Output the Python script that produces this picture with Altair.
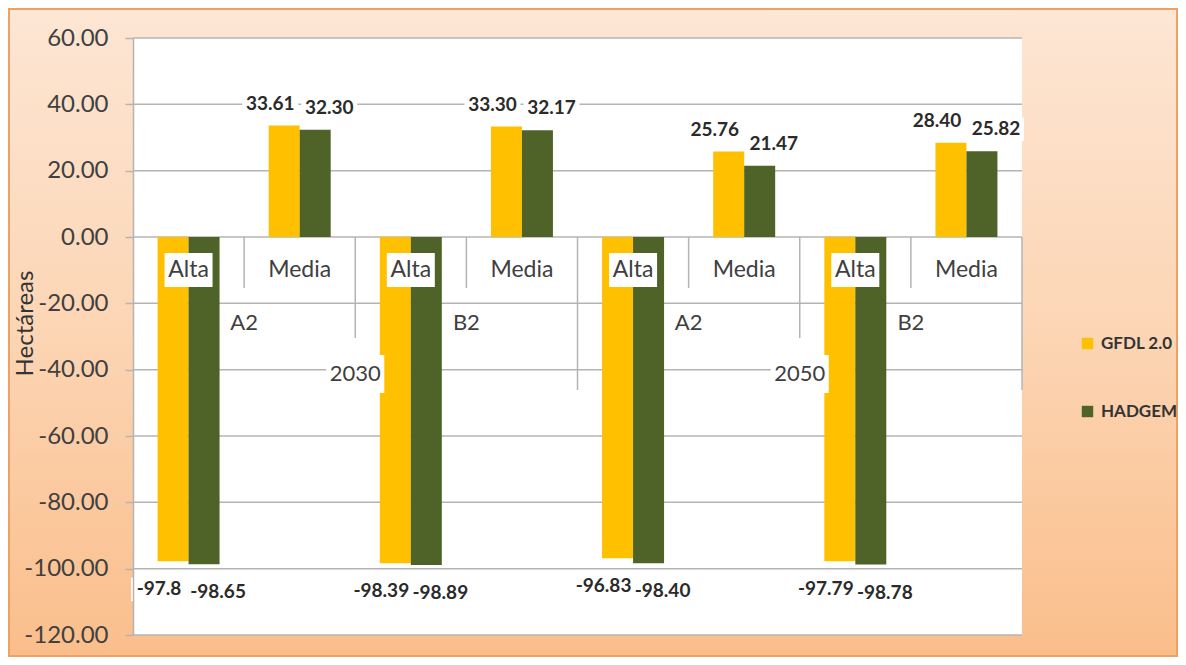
import altair as alt
import pandas as pd

# ---------------- data ----------------
years = ["2030", "2050"]
scenarios = ["A2", "B2", "A2", "B2"]
levels = ["Alta", "Media", "Alta", "Media", "Alta", "Media", "Alta", "Media"]
series_names = ["GFDL 2.0", "HADGEM"]
series_colors = ["#FFC000", "#4F6228"]
gfdl_values = [-97.8, 33.61, -98.39, 33.30, -96.83, 25.76, -97.79, 28.40]
hadgem_values = [-98.65, 32.30, -98.89, 32.17, -98.40, 21.47, -98.78, 25.82]
gfdl_labels = ["-97.8", "33.61", "-98.39", "33.30", "-96.83", "25.76", "-97.79", "28.40"]
hadgem_labels = ["-98.65", "32.30", "-98.89", "32.17", "-98.40", "21.47", "-98.78", "25.82"]
y_ticks = [-120, -100, -80, -60, -40, -20, 0, 20, 40, 60]

# ---------------- layout / style ----------------
W, H = 889, 597
PL, PT, PR, PB = 125, 30, 156, 22
YMIN, YMAX = -120, 60
NCAT = len(levels)
PX_UNIT = H / (YMAX - YMIN)
CAT_PX = W / NCAT
BAR_W = 31 / CAT_PX
LBL_DX = 14 / CAT_PX
FONT = "Lato"
TXT = "#404040"
GRID = "#B4B4B4"

xscale = alt.Scale(domain=[0, NCAT], nice=False, zero=False)
yscale = alt.Scale(domain=[YMIN, YMAX], nice=False, zero=False)

rows = []
for i in range(NCAT):
    for s, (vals, labs) in enumerate([(gfdl_values, gfdl_labels), (hadgem_values, hadgem_labels)]):
        v = vals[i]
        center = i + 0.5 + (s - 0.5) * BAR_W
        rows.append({
            "series": series_names[s],
            "value": v,
            "label": labs[i],
            "x0": center - BAR_W / 2,
            "x1": center + BAR_W / 2,
            "lx": center + (2 * s - 1) * LBL_DX,
            "ly": v + (22 / PX_UNIT if v > 0 else -28 / PX_UNIT),
        })
bars_df = pd.DataFrame(rows)

lvl1_df = pd.DataFrame({"x": [i + 0.5 for i in range(NCAT)], "text": levels})
lvl2_df = pd.DataFrame({"x": [2 * k + 1 for k in range(len(scenarios))], "text": scenarios})
lvl3_df = pd.DataFrame({"x": [4 * k + 2 for k in range(len(years))], "text": years})

div_px = {1: 250, 2: 300, 3: 352}
div_rows = []
for b in range(1, NCAT + 1):
    lev = 3 if b % 4 == 0 else (2 if b % 2 == 0 else 1)
    div_rows.append({"b": b, "zero": 0, "end": YMAX - div_px[lev] / PX_UNIT})
div_df = pd.DataFrame(div_rows)

ticks_df = pd.DataFrame({"t": y_ticks})
one = pd.DataFrame({"a": [0]})

gradient = {
    "gradient": "linear",
    "x1": 0, "x2": 0, "y1": 0, "y2": 1,
    "stops": [
        {"offset": 0, "color": "#FDE6D4"},
        {"offset": 0.5, "color": "#FCD5B4"},
        {"offset": 1, "color": "#FABE8B"},
    ],
}

bg = alt.Chart(one).mark_rect(fill=gradient, stroke="#F0A060", strokeWidth=2).encode(
    x=alt.value(-PL + 1), x2=alt.value(W + PR - 1),
    y=alt.value(-PT + 1), y2=alt.value(H + PB - 1),
)
plot_bg = alt.Chart(one).mark_rect(fill="white").encode(
    x=alt.value(0), x2=alt.value(W), y=alt.value(0), y2=alt.value(H)
)

grid = alt.Chart(ticks_df).mark_rule(color=GRID, strokeWidth=1.5).encode(
    y=alt.Y("t:Q", scale=yscale, axis=alt.Axis(
        values=y_ticks, grid=False, zindex=1,
        labelExpr="(datum.value < 0 ? '-' : '') + format(abs(datum.value), '.2f')",
        labelFontSize=24, labelColor=TXT, labelFont=FONT, labelPadding=17,
        tickSize=8, tickColor=GRID, domainColor=GRID, tickWidth=1.5, domainWidth=1.5,
        title="Hectáreas", titleFontSize=24, titleFontWeight="normal", titleColor="#333333",
        titleFont=FONT, titleAngle=270, titleX=-108, titleY=285,
        titleAlign="center", titleBaseline="middle",
    )),
    x=alt.value(0), x2=alt.value(W),
)

bars = alt.Chart(bars_df).mark_rect().encode(
    x=alt.X("x0:Q", scale=xscale, axis=None),
    x2="x1:Q",
    y=alt.Y("value:Q", scale=yscale, axis=None),
    y2=alt.datum(0),
    color=alt.Color("series:N", scale=alt.Scale(domain=series_names, range=series_colors),
                    legend=alt.Legend(
                        orient="none", legendX=946, legendY=297, title=None,
                        symbolType="square", symbolSize=130, symbolStrokeWidth=0,
                        labelFontSize=17, labelFontWeight="bold", labelColor="#333333",
                        labelFont=FONT, labelOffset=5, rowPadding=50, padding=0,
                    )),
)

dividers = alt.Chart(div_df).mark_rule(color=GRID, strokeWidth=1.5).encode(
    x=alt.X("b:Q", scale=xscale, axis=None),
    y=alt.Y("zero:Q", scale=yscale, axis=None),
    y2="end:Q",
)


def boxes(df, ypix, w, h):
    r = h / w
    return alt.Chart(df).mark_point(
        shape=f"M-1,-{r:.3f}L1,-{r:.3f}L1,{r:.3f}L-1,{r:.3f}Z",
        filled=True, color="white", opacity=1, size=w * w, strokeWidth=0,
    ).encode(x=alt.X("x:Q", scale=xscale, axis=None), y=alt.value(ypix))


def texts(df, ypix, size):
    return alt.Chart(df).mark_text(
        font=FONT, fontSize=size, color=TXT, align="center", baseline="middle"
    ).encode(x=alt.X("x:Q", scale=xscale, axis=None), y=alt.value(ypix), text="text:N")


lvl1_box = boxes(lvl1_df[lvl1_df.text == "Alta"], 232, 48, 34)
lvl1_txt = texts(lvl1_df, 232, 23)
lvl2_txt = texts(lvl2_df, 285, 22)
lvl3_box = boxes(lvl3_df, 336, 58, 38)
lvl3_txt = texts(lvl3_df, 336, 22)

lab_box = alt.Chart(bars_df).mark_point(
    shape="M-1,-0.42L1,-0.42L1,0.42L-1,0.42Z", filled=True, color="white",
    opacity=1, size=56 * 56, strokeWidth=0,
).encode(
    x=alt.X("lx:Q", scale=xscale, axis=None),
    y=alt.Y("ly:Q", scale=yscale, axis=None),
)
lab_txt = alt.Chart(bars_df).mark_text(
    font=FONT, fontSize=19, fontWeight="bold", color="#2B2B2B", align="center", baseline="middle"
).encode(
    x=alt.X("lx:Q", scale=xscale, axis=None),
    y=alt.Y("ly:Q", scale=yscale, axis=None),
    text="label:N",
)

chart = alt.layer(
    bg, plot_bg, grid, bars, dividers,
    lvl1_box, lvl1_txt, lvl2_txt, lvl3_box, lvl3_txt,
    lab_box, lab_txt,
).resolve_axis(y="independent", x="independent").properties(
    width=W, height=H,
    padding={"left": PL, "top": PT, "right": PR, "bottom": PB},
    autosize=alt.AutoSizeParams(type="none"),
).configure_view(strokeWidth=0).configure(font=FONT, background="white")

chart.save("out.html", embed_options={"renderer": "svg", "actions": False})
